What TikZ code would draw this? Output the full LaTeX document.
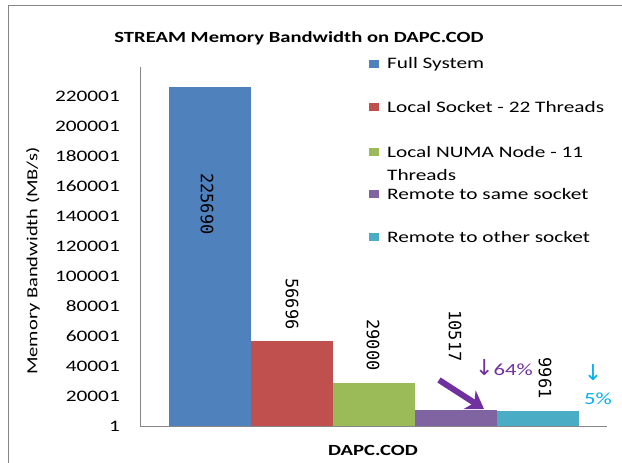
\documentclass[tikz,border=0pt]{standalone}
\usepackage{fontspec}
\setmainfont{Carlito}[FakeStretch=1.33]
\newfontfamily\barfont{DejaVu Sans Mono}
\newfontfamily\arrowfont{DejaVu Sans}
\usetikzlibrary{arrows.meta}
\definecolor{sysblue}{HTML}{4F81BD}
\definecolor{sockred}{HTML}{C0504D}
\definecolor{numagreen}{HTML}{9BBB59}
\definecolor{samepurple}{HTML}{8064A2}
\definecolor{othercyan}{HTML}{4BACC6}
\definecolor{notepurple}{HTML}{7030A0}
\definecolor{notecyan}{HTML}{00B0F0}
\definecolor{axisgray}{HTML}{868686}
\begin{document}
\begin{tikzpicture}[x=1pt, y=-1pt,
    every node/.style={inner sep=0pt, font=\fontsize{16}{19}\selectfont},
    barlabel/.style={font=\barfont\fontsize{17}{20}\selectfont, rotate=-90},
    legendkey/.style={minimum width=10pt, minimum height=8pt},
    legendtext/.style={anchor=west, align=left, font=\fontsize{16}{23}\selectfont},
    dropnote/.style={font=\fontsize{17}{20}\selectfont}]
    \useasboundingbox (0,0) rectangle (622,463);
    \draw[axisgray] (8,463) -- (8,5) -- (622,5);
    \node[font=\bfseries\fontsize{15.5}{18}\selectfont] (title) at (299,38) {STREAM Memory Bandwidth on DAPC.COD};
    % axes and tick labels
    \draw[axisgray] (140,67) -- (140,426) -- (607,426);
    \foreach \k in {0,...,11}
    \node[anchor=east] (tick\k) at (120,426-30*\k) {\the\numexpr 20000*\k+1\relax};
    \node[rotate=90, font=\fontsize{15.4}{18}\selectfont] (ylabel) at (33,261) {Memory Bandwidth (MB/s)};
    \node[font=\bfseries\fontsize{15.5}{18}\selectfont] (xlabel) at (373,450) {DAPC.COD};
    % bars, heights in thousands of MB/s
    \foreach \v/\c [count=\i from 0] in {225.690/sysblue, 56.696/sockred, 29.000/numagreen, 10.517/samepurple, 9.961/othercyan}
    \fill[\c] (169+82*\i,426) rectangle (251+82*\i,426-1.5*\v);
    \node[barlabel] (val-full) at (207,204) {225690};
    \node[barlabel] (val-socket) at (292,304) {56696};
    \node[barlabel] (val-numa) at (373,345) {29000};
    \node[barlabel] (val-same) at (455,336) {10517};
    \node[barlabel] (val-other) at (545,378) {9961};
    % legend
    \foreach \c/\t/\y/\ty [count=\i] in {sysblue/Full System/64/64, sockred/Local Socket - 22 Threads/107/107, numagreen/{Local NUMA Node - 11\\Threads}/152/163.5, samepurple/Remote to same socket/194/194, othercyan/Remote to other socket/237/237}
    {
        \node[legendkey, fill=\c] (key\i) at (374,\y) {};
        \node[legendtext] (entry\i) at (387,\ty) {\t};
    }
    % drop notes
    \coordinate (drop-tail) at (439,380);
    \coordinate (drop-tip) at (484,409);
    \draw[-{Stealth[length=17pt, width=22pt]}, line width=6pt, notepurple] (drop-tail) -- (drop-tip);
    \node[dropnote, anchor=west, text=notepurple] (drop-same) at (475,368) {{\arrowfont\fontsize{22}{22}\selectfont ↓}64\%};
    \node[dropnote, text=notecyan] (drop-mark) at (593,373) {\arrowfont\fontsize{22}{22}\selectfont ↓};
    \node[dropnote, text=notecyan] (drop-other) at (598,399) {5\%};
\end{tikzpicture}
\end{document}
